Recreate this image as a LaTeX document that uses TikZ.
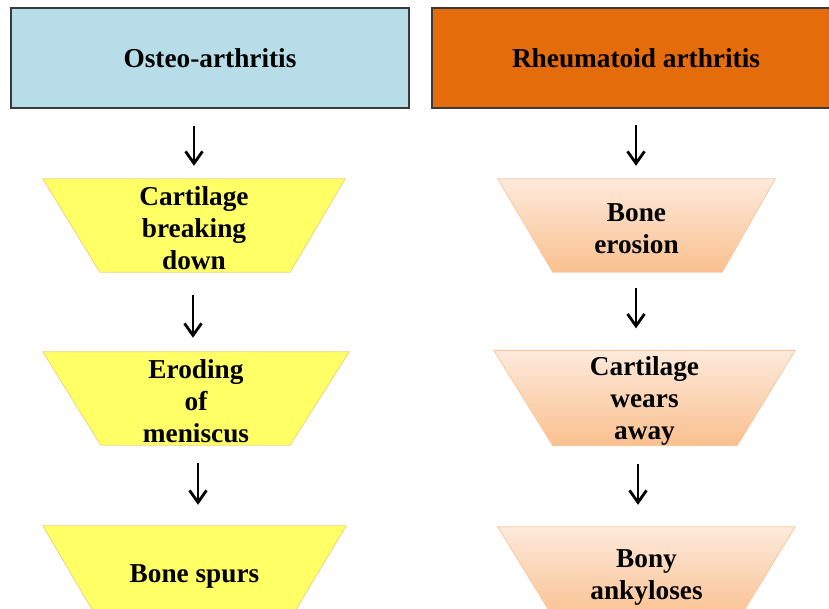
\documentclass[tikz,border=0pt]{standalone}
\usepackage{fontspec}
\setmainfont{Liberation Serif}
\usetikzlibrary{arrows.meta,calc,backgrounds}
\definecolor{hblue}{HTML}{B7DDE8}
\definecolor{horange}{HTML}{E46C0A}
\definecolor{hborder}{HTML}{3A3A3A}
\definecolor{yfillc}{HTML}{FFFF66}
\definecolor{yedge}{HTML}{F2D27A}
\definecolor{ptop}{HTML}{FDEADB}
\definecolor{pbot}{HTML}{FAC08F}
\definecolor{pedge}{HTML}{F8C8A0}
\newcommand\trapz[4]{\path[#1] (#2.north west) -- (#2.north east) -- ($(#2.south east)+(-#4,0)$) -- ($(#2.south west)+(#3,0)$) -- cycle;}
\newcommand\mystrut{\rule{0pt}{25pt}}
\begin{document}
\begin{tikzpicture}[x=1pt,y=-1pt,
  txt/.style={font=\bfseries\fontsize{27.3pt}{32pt}\selectfont, align=center, inner sep=0pt},
  head/.style={txt, draw=hborder, line width=1.4pt, minimum height=100pt},
  tnode/.style={txt, minimum height=93pt},
  yshape/.style={fill=yfillc, draw=yedge, line width=0.8pt},
  pshape/.style={top color=ptop, bottom color=pbot, draw=pedge, line width=0.8pt},
  arr/.style={line width=2.8pt, -{Straight Barb[length=12pt,width=17pt,line width=2.8pt]}}]
\useasboundingbox (0,0) rectangle (829,609);
\clip (0,0) rectangle (829,609);
% headers
\node[head, fill=hblue, minimum width=398pt] (L0) at (210,58) {Osteo-arthritis};
\node[head, fill=horange, minimum width=408pt] (R0) at (636,58) {Rheumatoid arthritis};
% left column
\node[tnode, minimum width=302pt] (L1) at (194,225.5) {\mystrut Cartilage\\breaking\\down};
\node[tnode, minimum width=306pt] (L2) at (196,398.5) {\mystrut Eroding\\of\\meniscus};
\node[tnode, minimum width=303pt] (L3) at (194.5,572.5) {\mystrut Bone spurs};
% right column
\node[tnode, minimum width=277pt] (R1) at (636.5,225.5) {\mystrut Bone\\erosion};
\node[tnode, minimum width=301pt, minimum height=94pt] (R2) at (644.5,398) {\mystrut Cartilage\\wears\\away};
\node[tnode, minimum width=297pt] (R3) at (646.5,573.5) {\mystrut Bony\\ankyloses};
\begin{scope}[on background layer]
\fill[white] (0,0) rectangle (829,609);
\trapz{yshape}{L1}{57}{55}
\trapz{yshape}{L2}{58}{59}
\trapz{yshape}{L3}{55}{56}
\trapz{pshape}{R1}{55}{53}
\trapz{pshape}{R2}{59}{58}
\trapz{pshape}{R3}{57}{57}
\end{scope}
% arrows
\draw[arr] ($(L0.south -| L1.north)+(0,17)$) -- ($(L1.north)+(0,-13)$);
\draw[arr] ($(L1.south -| L2.north)+(-3,23)$) -- ($(L2.north)+(-3,-14)$);
\draw[arr] ($(L2.south -| L3.north)+(3.5,18)$) -- ($(L3.north)+(3.5,-21)$);
\draw[arr] ($(R0.south -| R1.north)+(-0.5,16)$) -- ($(R1.north)+(-0.5,-13)$);
\draw[arr] ($(R1.south -| R2.north)+(-8.5,16)$) -- ($(R2.north)+(-8.5,-22)$);
\draw[arr] ($(R2.south -| R3.north)+(-8.5,18)$) -- ($(R3.north)+(-8.5,-22)$);
\end{tikzpicture}
\end{document}
